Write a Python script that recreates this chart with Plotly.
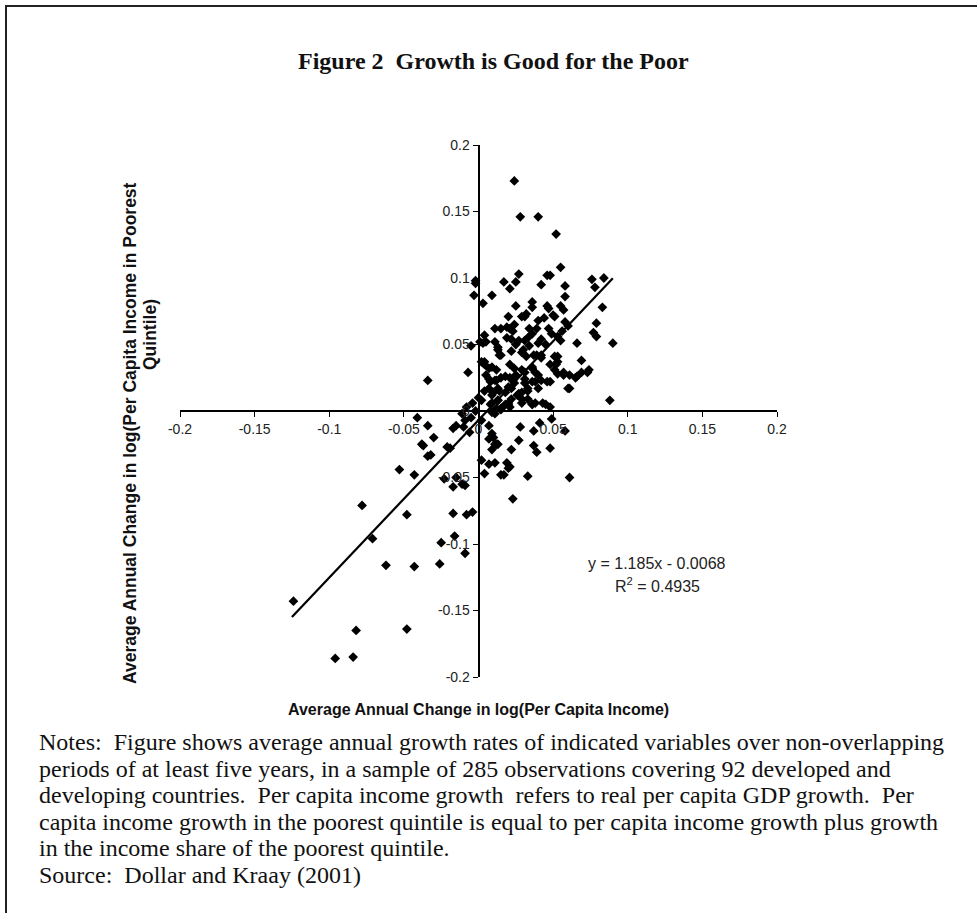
import plotly.graph_objects as go

# ---- data ----
income_growth = [
    0.024, 0.028, 0.040, 0.052, 0.055, 0.027, 0.046, 0.048, 0.017, 0.025,
    0.021, 0.042, 0.058, 0.076, 0.084, 0.078, -0.002, -0.002, -0.003, 0.003,
    0.009, 0.025, 0.036, 0.036, 0.046, 0.047, 0.058, 0.055, 0.083, 0.020,
    0.024, 0.031, 0.044, 0.050, 0.058, 0.079, 0.077, 0.079, 0.011, 0.015,
    0.021, 0.004, 0.034, 0.039, 0.019, 0.027, 0.033, 0.040, 0.053, 0.055,
    0.066, 0.090, -0.005, 0.001, 0.005, 0.011, 0.013, 0.014, 0.022, 0.030,
    0.037, 0.042, 0.051, 0.052, 0.069, -0.007, 0.002, 0.004, 0.007, 0.005,
    0.008, 0.012, 0.015, 0.021, 0.025, 0.031, 0.036, 0.040, 0.046, 0.053,
    0.057, 0.061, 0.065, 0.069, 0.073, 0.088,
    0.007, 0.010, 0.013, 0.018, 0.020, 0.022, 0.026, 0.029, 0.033, 0.038,
    0.043, 0.048, 0.009, 0.013, 0.018, 0.015, 0.021, 0.029, 0.033, 0.038,
    0.024, 0.031,
    0.029, 0.032, 0.040, 0.051, 0.057, 0.060, 0.019, 0.023, 0.036, 0.047,
    0.049, 0.056, 0.003, 0.022, 0.025, 0.031, 0.034, 0.042, 0.045, 0.013,
    0.015, 0.029, 0.032, 0.039, 0.042, 0.053, 0.053, 0.004, 0.009, 0.012,
    0.021, 0.024, 0.029, 0.036, 0.038, 0.048, 0.051, 0.057, 0.061, 0.074,
    0.066, 0.007, 0.011, 0.018, 0.023, 0.031, 0.036, 0.042, 0.048, 0.060,
    0.004, 0.009, 0.014, 0.022, 0.027, 0.033, 0.040, 0.002, 0.008, 0.013,
    0.020, 0.029, 0.036,
    -0.034, -0.041, -0.034, -0.030, -0.037, -0.034, -0.032, -0.053, -0.043, -0.015,
    -0.011, -0.048, -0.017, -0.008, -0.004, -0.021, -0.019, -0.017, -0.015, -0.010,
    -0.006, -0.011, -0.005, -0.009, -0.002, 0.002, 0.007, 0.009, 0.012, 0.002,
    0.004, 0.009, 0.012, 0.011, 0.007, 0.010, -0.038, -0.023, -0.017, -0.009,
    -0.078, -0.071, -0.016, -0.025, -0.009, -0.062, -0.043, -0.026, -0.124, -0.082,
    -0.048, -0.096, -0.084,
    0.041, 0.049, 0.028, 0.027, 0.037, 0.058, 0.037, 0.039, 0.048, 0.022,
    0.019, 0.020, 0.017, 0.033, 0.061, 0.023, 0.011, 0.009, 0.013, 0.011,
    0.015, 0.020, 0.036, 0.045, 0.007, 0.015, 0.021, -0.004, 0.000, -0.008,
]
poorest_growth = [
    0.173, 0.146, 0.146, 0.133, 0.108, 0.103, 0.102, 0.102, 0.097, 0.097,
    0.092, 0.095, 0.094, 0.099, 0.100, 0.093, 0.098, 0.096, 0.087, 0.081,
    0.087, 0.079, 0.082, 0.078, 0.079, 0.077, 0.086, 0.079, 0.078, 0.071,
    0.065, 0.071, 0.070, 0.072, 0.067, 0.066, 0.059, 0.056, 0.062, 0.062,
    0.062, 0.057, 0.062, 0.062, 0.055, 0.053, 0.055, 0.051, 0.056, 0.053,
    0.051, 0.051, 0.049, 0.052, 0.052, 0.052, 0.048, 0.042, 0.045, 0.046,
    0.042, 0.042, 0.041, 0.035, 0.038, 0.029, 0.037, 0.035, 0.032, 0.027,
    0.022, 0.023, 0.025, 0.025, 0.027, 0.029, 0.032, 0.027, 0.022, 0.028,
    0.027, 0.017, 0.025, 0.029, 0.029, 0.008,
    0.017, 0.014, 0.017, 0.014, 0.018, 0.009, 0.012, 0.014, 0.009, 0.006,
    0.006, 0.003, 0.006, 0.008, 0.005, 0.001, 0.003, 0.006, 0.017, 0.022,
    0.021, 0.021,
    0.071, 0.073, 0.068, 0.071, 0.076, 0.064, 0.063, 0.060, 0.058, 0.062,
    0.058, 0.060, 0.051, 0.054, 0.050, 0.053, 0.049, 0.054, 0.050, 0.046,
    0.042, 0.044, 0.041, 0.042, 0.040, 0.041, 0.037, 0.037, 0.033, 0.031,
    0.035, 0.032, 0.031, 0.033, 0.029, 0.035, 0.031, 0.029, 0.027, 0.031,
    0.026, 0.024, 0.023, 0.026, 0.023, 0.024, 0.022, 0.023, 0.022, 0.017,
    0.015, 0.012, 0.015, 0.017, 0.013, 0.015, 0.017, 0.008, 0.005, 0.008,
    0.006, 0.009, 0.005,
    0.023, -0.005, -0.011, -0.020, -0.026, -0.034, -0.033, -0.044, -0.048, -0.050,
    -0.055, -0.078, -0.077, -0.078, -0.076, -0.027, -0.028, -0.013, -0.011, -0.012,
    -0.016, -0.002, -0.005, -0.007, 0.000, -0.007, -0.011, -0.001, 0.002, -0.037,
    -0.047, -0.029, -0.025, -0.039, -0.021, -0.020, -0.025, -0.051, -0.057, -0.056,
    -0.071, -0.096, -0.094, -0.099, -0.107, -0.116, -0.117, -0.115, -0.143, -0.165,
    -0.164, -0.186, -0.185,
    -0.009, -0.006, -0.012, -0.022, -0.015, -0.015, -0.026, -0.031, -0.028, -0.029,
    -0.039, -0.043, -0.048, -0.049, -0.050, -0.066, -0.025, -0.017, -0.025, -0.002,
    0.002, 0.005, 0.005, 0.005, -0.040, -0.048, -0.042, 0.006, 0.010, 0.003,
]

fit_slope = 1.185
fit_intercept = -0.0068
fit_x = [-0.125, 0.09]
fit_y = [fit_slope * v + fit_intercept for v in fit_x]

tick_vals = [-0.2, -0.15, -0.1, -0.05, 0, 0.05, 0.1, 0.15, 0.2]
tick_text = ["-0.2", "-0.15", "-0.1", "-0.05", "0", "0.05", "0.1", "0.15", "0.2"]

title_text = "Figure 2  Growth is Good for the Poor"
x_title = "Average Annual Change in log(Per Capita Income)"
y_title_1 = "Average Annual Change in log(Per Capita Income in Poorest"
y_title_2 = "Quintile)"
equation_text = "y = 1.185x - 0.0068"
r2_text = "R<sup>2</sup> = 0.4935"
notes_lines = [
    "Notes:  Figure shows average annual growth rates of indicated variables over non-overlapping",
    "periods of at least five years, in a sample of 285 observations covering 92 developed and",
    "developing countries.  Per capita income growth  refers to real per capita GDP growth.  Per",
    "capita income growth in the poorest quintile is equal to per capita income growth plus growth",
    "in the income share of the poorest quintile.",
    "Source:  Dollar and Kraay (2001)",
]

# ---- layout geometry ----
W, H = 977, 913
L, R, T, B = 180, 200, 145, 236
PW, PH = W - L - R, H - T - B


def px(x):
    return (x - L) / PW


def py(y):
    return (H - B - y) / PH


fig = go.Figure()
fig.add_trace(go.Scatter(
    x=income_growth, y=poorest_growth, mode="markers",
    marker=dict(symbol="diamond", size=7.5, color="black"),
    showlegend=False, hoverinfo="skip",
))
fig.add_trace(go.Scatter(
    x=fit_x, y=fit_y, mode="lines",
    line=dict(color="black", width=2.2),
    showlegend=False, hoverinfo="skip",
))

axis_font = dict(family="Liberation Sans, Arial, sans-serif", size=14, color="#222")
fig.update_xaxes(
    range=[-0.2, 0.2], tickvals=tick_vals, ticktext=tick_text,
    showgrid=False, zeroline=False, showline=True, linecolor="black", linewidth=1.8,
    ticks="outside", ticklen=5, tickwidth=1.4, tickcolor="black",
    anchor="free", position=0.5, tickfont=axis_font,
)
fig.update_yaxes(
    range=[-0.2, 0.2], tickvals=tick_vals, ticktext=tick_text,
    showgrid=False, zeroline=False, showline=True, linecolor="black", linewidth=1.8,
    ticks="outside", ticklen=5, tickwidth=1.4, tickcolor="black",
    anchor="free", position=0.5, tickfont=axis_font,
)

sans = "Liberation Sans, Arial, sans-serif"
serif = "Liberation Serif, Times New Roman, serif"
ann = []
ann.append(dict(text="<b>" + title_text + "</b>", x=px(493), y=py(61), xref="paper", yref="paper",
                showarrow=False, xanchor="center", yanchor="middle",
                font=dict(family=serif, size=24, color="#111")))
ann.append(dict(text="<b>" + x_title + "</b>", x=px(478), y=py(709), xref="paper", yref="paper",
                showarrow=False, xanchor="center", yanchor="middle",
                font=dict(family=sans, size=16, color="#111")))
ann.append(dict(text="<b>" + y_title_1 + "</b>", x=px(130), y=py(433), xref="paper", yref="paper",
                showarrow=False, xanchor="center", yanchor="middle", textangle=-90,
                font=dict(family=sans, size=17.5, color="#111")))
ann.append(dict(text="<b>" + y_title_2 + "</b>", x=px(150), y=py(335), xref="paper", yref="paper",
                showarrow=False, xanchor="center", yanchor="middle", textangle=-90,
                font=dict(family=sans, size=17.5, color="#111")))
ann.append(dict(text=equation_text, x=px(657), y=py(563), xref="paper", yref="paper",
                showarrow=False, xanchor="center", yanchor="middle",
                font=dict(family=sans, size=16, color="#222")))
ann.append(dict(text=r2_text, x=px(657), y=py(585), xref="paper", yref="paper",
                showarrow=False, xanchor="center", yanchor="middle",
                font=dict(family=sans, size=16, color="#222")))
for i, line in enumerate(notes_lines):
    ann.append(dict(text=line, x=px(37), y=py(742 + i * 26.6), xref="paper", yref="paper",
                    showarrow=False, xanchor="left", yanchor="middle",
                    font=dict(family=serif, size=24, color="#111")))

shapes = [
    dict(type="line", xref="paper", yref="paper", x0=px(5), x1=px(977), y0=py(6), y1=py(6),
         line=dict(color="#222", width=2)),
    dict(type="line", xref="paper", yref="paper", x0=px(6), x1=px(6), y0=py(6), y1=py(913),
         line=dict(color="#222", width=2)),
]

fig.update_layout(
    width=W, height=H,
    margin=dict(l=L, r=R, t=T, b=B),
    paper_bgcolor="white", plot_bgcolor="white",
    annotations=ann, shapes=shapes,
)

fig.write_html(
    "out.html",
    config={"displayModeBar": False},
    post_script="document.body.style.margin='0px';document.body.style.overflow='hidden';",
)
